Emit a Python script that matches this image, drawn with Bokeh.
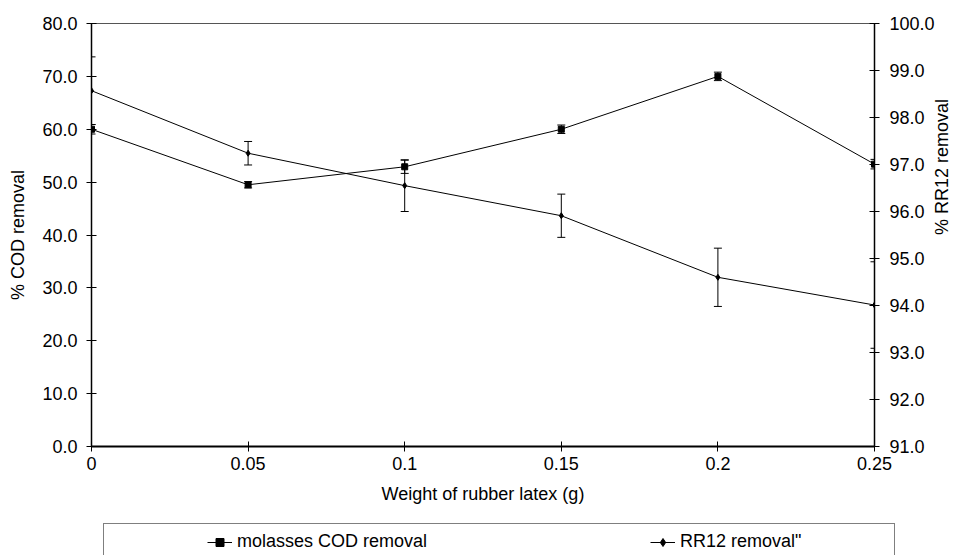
import math
from bokeh.plotting import figure
from bokeh.layouts import column
from bokeh.models import (Range1d, LinearAxis, FixedTicker, PrintfTickFormatter,
                          Whisker, TeeHead, ColumnDataSource, Legend, LegendItem)
from bokeh.embed import file_html
from bokeh.resources import INLINE

# ---- data ----
weight = [0, 0.05, 0.1, 0.15, 0.2, 0.25]
x_tick_labels = ["0", "0.05", "0.1", "0.15", "0.2", "0.25"]
cod_removal = [60.0, 49.5, 52.9, 60.0, 70.0, 53.4]
cod_err = [0.9, 0.6, 1.25, 0.8, 0.8, 0.9]
rr12_removal = [98.57, 97.24, 96.55, 95.91, 94.60, 94.01]
rr12_err = [0.72, 0.25, 0.55, 0.46, 0.62, 0.92]
left_ticks = [0, 10, 20, 30, 40, 50, 60, 70, 80]
right_ticks = [91, 92, 93, 94, 95, 96, 97, 98, 99, 100]
series_names = ["molasses COD removal", 'RR12 removal"']

FONT = "Liberation Sans"
FS = "18px"

cod_src = ColumnDataSource(dict(
    x=weight, y=cod_removal,
    upper=[v + e for v, e in zip(cod_removal, cod_err)],
    lower=[v - e for v, e in zip(cod_removal, cod_err)]))
rr_src = ColumnDataSource(dict(
    x=weight, y=rr12_removal,
    upper=[v + e for v, e in zip(rr12_removal, rr12_err)],
    lower=[v - e for v, e in zip(rr12_removal, rr12_err)]))

p = figure(width=964, height=520, x_range=Range1d(0, 0.25), y_range=Range1d(0, 80),
           output_backend="svg", toolbar_location=None,
           min_border_left=91, min_border_right=89, min_border_top=23, min_border_bottom=74)
p.extra_y_ranges = {"rr12": Range1d(91, 100)}
p.xgrid.visible = False
p.ygrid.visible = False
p.outline_line_color = "#555555"
p.outline_line_width = 1
p.background_fill_color = "white"
p.border_fill_color = "white"

# axes
xa = p.xaxis[0]
xa.ticker = FixedTicker(ticks=weight)
xa.major_label_overrides = {w: l for w, l in zip(weight, x_tick_labels)}
xa.axis_label = "Weight of rubber latex (g)"
xa.major_label_standoff = 5
xa.axis_label_standoff = 11
xa.axis_line_width = 2

ya = p.yaxis[0]
ya.ticker = FixedTicker(ticks=left_ticks)
ya.formatter = PrintfTickFormatter(format="%.1f")
ya.axis_label = "% COD removal"
ya.major_label_standoff = 9
ya.axis_label_standoff = 11
ya.axis_line_width = 1.5

ra = LinearAxis(y_range_name="rr12", ticker=FixedTicker(ticks=right_ticks),
                formatter=PrintfTickFormatter(format="%.1f"), axis_label="% RR12 removal")
ra.major_label_standoff = 10
ra.axis_label_standoff = 4
ra.axis_line_width = 1.5
ra.axis_label_orientation = math.pi / 2
p.add_layout(ra, "right")

for ax in (xa, ya, ra):
    ax.major_tick_in = 5
    ax.major_tick_out = 5
    ax.minor_tick_line_color = None
    ax.axis_line_color = "black"
    ax.major_tick_line_color = "black"
    ax.major_label_text_font = FONT
    ax.major_label_text_font_size = FS
    ax.major_label_text_color = "black"
    ax.axis_label_text_font = FONT
    ax.axis_label_text_font_size = FS
    ax.axis_label_text_font_style = "normal"
    ax.axis_label_text_color = "black"

# error bars
p.add_layout(Whisker(source=cod_src, base="x", upper="upper", lower="lower",
                     line_color="black", line_width=1,
                     upper_head=TeeHead(size=8, line_color="black", line_width=1),
                     lower_head=TeeHead(size=8, line_color="black", line_width=1)))
p.add_layout(Whisker(source=rr_src, base="x", upper="upper", lower="lower",
                     y_range_name="rr12", line_color="black", line_width=1,
                     upper_head=TeeHead(size=8, line_color="black", line_width=1),
                     lower_head=TeeHead(size=8, line_color="black", line_width=1)))

# series
p.line("x", "y", source=cod_src, line_color="black", line_width=1)
p.scatter("x", "y", source=cod_src, marker="square", size=6,
          fill_color="black", line_color="black")
p.line("x", "y", source=rr_src, y_range_name="rr12", line_color="black", line_width=1)
p.scatter("x", "y", source=rr_src, y_range_name="rr12", marker="diamond", size=6,
          fill_color="black", line_color="black")

# ---- legend strip (separate figure below, partly cut by the page edge) ----
# its ranges exclude all data, so the proxy renderers only show in the legend
q = figure(width=964, height=35, x_range=Range1d(0, 1), y_range=Range1d(-2, -1),
           output_backend="svg", toolbar_location=None,
           x_axis_location=None, y_axis_location=None, min_border=0)
q.frame_align = False
q.xgrid.visible = False
q.ygrid.visible = False
q.outline_line_color = None
q.background_fill_color = "white"
q.border_fill_color = "white"

ql1 = q.line("x", "y", source=cod_src, line_color="black", line_width=1)
qm1 = q.scatter("x", "y", source=cod_src, marker="square", size=5,
                fill_color="black", line_color="black")
ql2 = q.line("x", "y", source=rr_src, line_color="black", line_width=1)
qm2 = q.scatter("x", "y", source=rr_src, marker="diamond", size=6,
                fill_color="black", line_color="black")
dummy = q.scatter("x", "y", source=rr_src, size=1, alpha=0)

box = Legend(items=[LegendItem(label=" ", renderers=[dummy])],
             location=(103, -10), padding=0, margin=0, spacing=0,
             glyph_width=20, glyph_height=40, label_width=770, label_height=40,
             label_standoff=0, border_line_color="black", border_line_width=1,
             background_fill_color="white", background_fill_alpha=1.0,
             label_text_font_size="1px")
q.add_layout(box, "center")

def item_legend(label, rends, vx):
    lg = Legend(items=[LegendItem(label=label, renderers=rends)],
                location=(vx, 3), padding=0, margin=0, spacing=0,
                glyph_width=25, glyph_height=20, label_height=20, label_width=10,
                label_standoff=5, border_line_color=None,
                background_fill_alpha=0.0,
                label_text_font=FONT, label_text_font_size=FS, label_text_color="black")
    q.add_layout(lg, "center")

item_legend(series_names[0], [ql1, qm1], 207)
item_legend(series_names[1], [ql2, qm2], 650)

layout = column(p, q, spacing=0)
open("out.html", "w").write(file_html(layout, INLINE))
